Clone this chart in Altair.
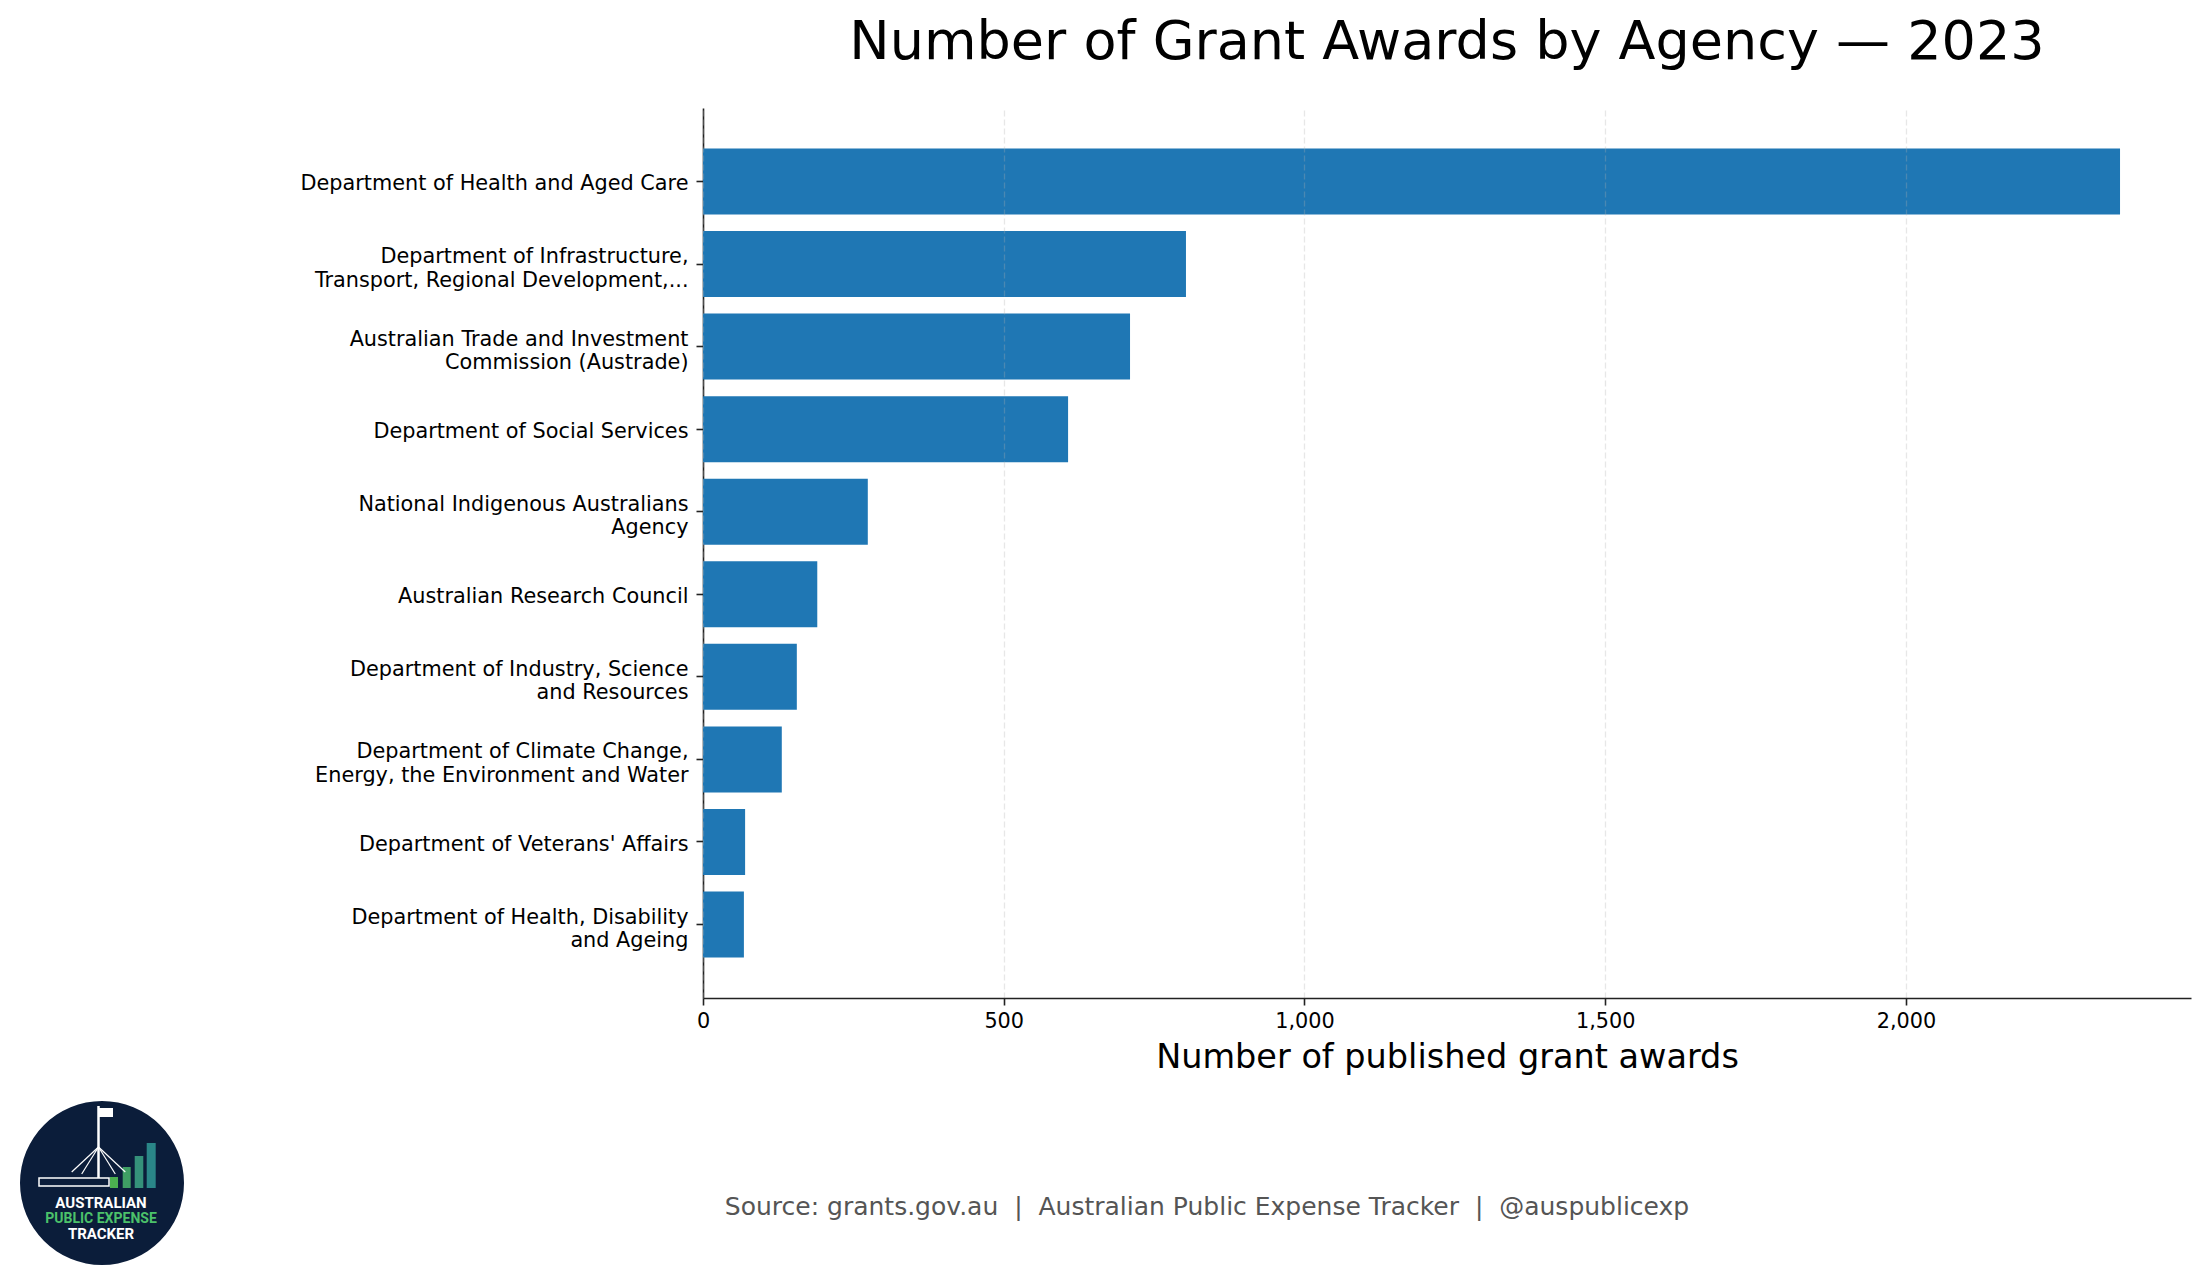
import altair as alt
import pandas as pd

# ---------------- data ----------------
AGENCIES = [
    "Department of Health and Aged Care",
    "Department of Infrastructure,\nTransport, Regional Development,...",
    "Australian Trade and Investment\nCommission (Austrade)",
    "Department of Social Services",
    "National Indigenous Australians\nAgency",
    "Australian Research Council",
    "Department of Industry, Science\nand Resources",
    "Department of Climate Change,\nEnergy, the Environment and Water",
    "Department of Veterans' Affairs",
    "Department of Health, Disability\nand Ageing",
]
AWARDS = [2356, 803, 710, 607, 274, 190, 156, 131, 70, 68]
X_TICKS = [0, 500, 1000, 1500, 2000]
X_MAX = 2474

TITLE = "Number of Grant Awards by Agency \u2014 2023"
X_TITLE = "Number of published grant awards"
SOURCE = ("Source: grants.gov.au \u00a0|\u00a0 Australian Public Expense Tracker"
          " \u00a0|\u00a0 @auspublicexp")
LOGO_LINES = ["AUSTRALIAN", "PUBLIC EXPENSE", "TRACKER"]

df = pd.DataFrame({"agency": AGENCIES, "awards": AWARDS})

FONT = "DejaVu Sans"
BLUE = "#1f77b4"
NAVY = "#0b1d3a"

bars = alt.Chart(df).mark_bar(color=BLUE).encode(
    x=alt.X(
        "awards:Q",
        scale=alt.Scale(domain=[0, X_MAX], nice=False, zero=True),
        axis=alt.Axis(
            values=X_TICKS,
            format=",d",
            title=X_TITLE,
            titleFontSize=33.5,
            titleFontWeight="normal",
            titleColor="black",
            titleBaseline="alphabetic",
            titleY=69,
            labelFontSize=20.8,
            labelColor="black",
            labelPadding=6,
            labelFlush=False,
            tickSize=7,
            tickWidth=1.6,
            tickColor="#222222",
            domainColor="#222222",
            domainWidth=1.6,
            grid=True,
            gridColor="#b0b0b0",
            gridOpacity=0.3,
            gridDash=[6, 3],
            gridWidth=1.3,
            zindex=1,
        ),
    ),
    y=alt.Y(
        "agency:N",
        sort=AGENCIES,
        scale=alt.Scale(paddingInner=0.2, paddingOuter=0.49),
        axis=alt.Axis(
            title=None,
            labelExpr="split(datum.label, '\\n')",
            labelFontSize=20.8,
            labelColor="black",
            labelLineHeight=23.5,
            labelBaseline="middle",
            labelOffset={
                "condition": {"test": "indexof(datum.value, '\\n') >= 0", "value": -7},
                "value": 3,
            },
            labelLimit=600,
            labelPadding=8,
            tickSize=7,
            tickWidth=1.6,
            tickColor="#222222",
            domainColor="#222222",
            domainWidth=1.6,
            grid=False,
        ),
    ),
)

one = alt.Data(values=[{"k": 0}])
OX, OY = 703, 108  # plot origin on the page


def rx(v):
    return v - OX


def ry(v):
    return v - OY


source = alt.Chart(alt.Data(values=[{"t": SOURCE}])).mark_text(
    fontSize=25, color="#555555", align="center", baseline="alphabetic", font=FONT
).encode(x=alt.value(rx(1207)), y=alt.value(ry(1215)), text="t:N")

# ---- logo (decorative) ----
logo_layers = []
logo_layers.append(
    alt.Chart(one).mark_point(filled=True, shape="circle", size=164 * 164, color=NAVY, opacity=1)
    .encode(x=alt.value(rx(102)), y=alt.value(ry(1183)))
)
bar_specs = [
    (110, 118, 1177, "#4caf50"),
    (122.7, 130.7, 1167, "#3f9f64"),
    (134.7, 143.3, 1156, "#35917a"),
    (146.7, 155.7, 1143, "#2a8688"),
]
for x1, x2, top, col in bar_specs:
    logo_layers.append(
        alt.Chart(one).mark_rect(color=col).encode(
            x=alt.value(rx(x1)), x2=alt.value(rx(x2)), y=alt.value(ry(top)), y2=alt.value(ry(1188))
        )
    )
# building
logo_layers.append(
    alt.Chart(one).mark_rect(fill=NAVY, stroke="white", strokeWidth=1.5).encode(
        x=alt.value(rx(39)), x2=alt.value(rx(109)), y=alt.value(ry(1178)), y2=alt.value(ry(1186))
    )
)
# flagpole
logo_layers.append(
    alt.Chart(one).mark_rule(color="white", strokeWidth=2.5).encode(
        x=alt.value(rx(98.5)), y=alt.value(ry(1106)), y2=alt.value(ry(1178))
    )
)
# flag
logo_layers.append(
    alt.Chart(one).mark_rect(color="white").encode(
        x=alt.value(rx(99)), x2=alt.value(rx(113)), y=alt.value(ry(1108)), y2=alt.value(ry(1117))
    )
)
for ex, ey in [(71.7, 1172), (81.7, 1174), (115.3, 1174), (125.3, 1172)]:
    logo_layers.append(
        alt.Chart(one).mark_rule(color="white", strokeWidth=1.2).encode(
            x=alt.value(rx(98.5)), y=alt.value(ry(1147)), x2=alt.value(rx(ex)), y2=alt.value(ry(ey))
        )
    )
for txt, base, col, fs in zip(LOGO_LINES, [1208, 1223, 1239],
                              ["white", "#4cc26a", "white"], [15, 14, 15]):
    logo_layers.append(
        alt.Chart(alt.Data(values=[{"t": txt}])).mark_text(
            fontSize=fs, fontWeight="bold", font="Roboto", color=col,
            align="center", baseline="alphabetic",
        ).encode(x=alt.value(rx(101)), y=alt.value(ry(base)), text="t:N")
    )

chart = alt.layer(bars, source, *logo_layers).properties(
    width=1488,
    height=890,
    title=alt.TitleParams(
        TITLE,
        fontSize=54,
        font=FONT,
        fontWeight="normal",
        color="black",
        anchor="middle",
        baseline="alphabetic",
        offset=-5,
    ),
    autosize=alt.AutoSizeParams(type="none"),
    padding={"left": 695, "top": 100, "right": 6, "bottom": 269},
).configure(font=FONT).configure_view(strokeWidth=0)

chart.save("out.html", embed_options={"renderer": "svg", "actions": False})
